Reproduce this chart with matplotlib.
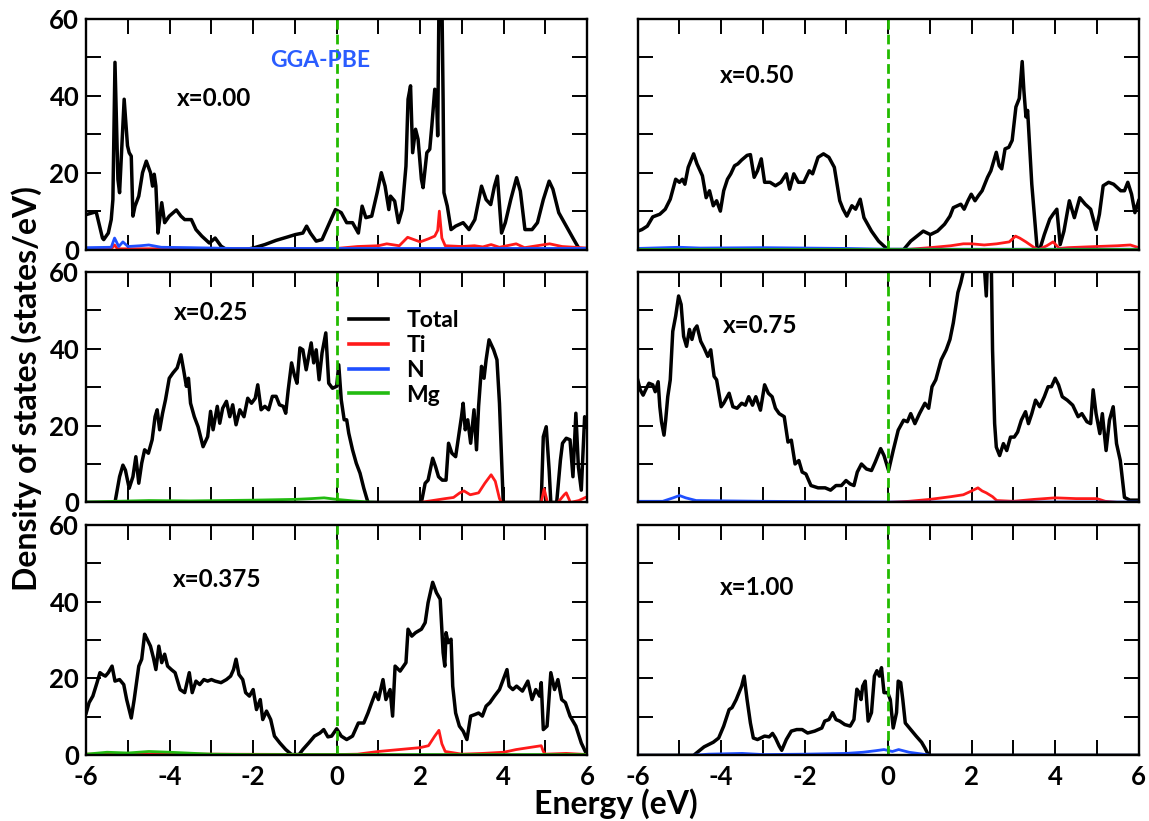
import matplotlib
matplotlib.use('Agg')
import matplotlib.pyplot as plt
from matplotlib.ticker import MultipleLocator

plt.rcParams['font.family'] = ['Lato', 'DejaVu Sans']
plt.rcParams['font.weight'] = 'bold'
plt.rcParams['axes.unicode_minus'] = False

# ---- data (energy in eV, DOS in states/eV) ----
# x = 0.00
e_tot_000 = [-6.00, -5.84, -5.76, -5.61, -5.58, -5.47, -5.40, -5.36, -5.31, -5.24,
             -5.20, -5.09, -5.01, -4.97, -4.92, -4.88, -4.83, -4.74, -4.65, -4.56,
             -4.46, -4.41, -4.37, -4.33, -4.28, -4.24, -4.19, -4.12, -4.01, -3.84,
             -3.73, -3.64, -3.48, -3.37, -3.23, -3.05, -2.91, -2.77, -2.64, -2.18,
             -2.00, -1.72, -1.45, -1.17, -0.99, -0.81, -0.72, -0.63, -0.49, -0.35,
             -0.17, -0.03, 0.11, 0.24, 0.38, 0.52, 0.61, 0.70, 0.84, 0.97,
             1.07, 1.16, 1.25, 1.29, 1.39, 1.48, 1.57, 1.66, 1.71, 1.77,
             1.82, 1.89, 1.95, 2.03, 2.07, 2.16, 2.23, 2.28, 2.35, 2.39,
             2.42, 2.46, 2.51, 2.55, 2.57, 2.65, 2.74, 2.85, 3.03, 3.17,
             3.31, 3.47, 3.58, 3.69, 3.78, 3.85, 3.95, 4.04, 4.17, 4.31,
             4.40, 4.51, 4.68, 4.81, 4.95, 5.09, 5.18, 5.32, 5.50, 5.68,
             5.82, 6.00]
tot_000 = [9.1, 9.6, 9.8, 3.0, 2.6, 4.3, 7.8, 13.0, 48.7, 18.3,
           14.8, 39.1, 27.0, 25.2, 24.3, 8.7, 11.3, 13.9, 20.0, 23.0,
           20.0, 16.5, 19.6, 16.5, 4.3, 7.8, 12.2, 7.0, 8.7, 10.3,
           8.7, 7.8, 7.8, 5.2, 3.5, 1.7, 3.0, 0.9, 0.0, 0.0,
           0.4, 1.3, 2.4, 3.3, 3.9, 4.3, 6.1, 4.3, 2.2, 2.6,
           7.0, 10.4, 9.6, 7.0, 7.0, 4.3, 11.3, 8.3, 8.7, 14.8,
           20.0, 16.5, 10.4, 13.9, 12.6, 7.0, 10.4, 21.7, 39.1, 42.6,
           25.2, 31.3, 28.7, 18.3, 16.1, 25.2, 26.1, 32.2, 41.7, 40.9,
           29.6, 75.0, 75.0, 39.0, 14.8, 11.3, 5.2, 6.1, 7.0, 5.2,
           7.8, 16.5, 13.0, 11.7, 16.5, 19.1, 4.3, 7.0, 13.0, 18.7,
           15.2, 5.2, 5.2, 7.0, 13.0, 17.8, 15.7, 9.6, 6.1, 2.6,
           0.0, 0.0]
e_ti_000 = [-6.0, -5.4, -5.32, -5.25, -5.0, 0.0, 0.5, 1.0, 1.2, 1.5,
            1.7, 1.8, 2.0, 2.2, 2.35, 2.42, 2.46, 2.52, 2.6, 3.0,
            3.3, 3.5, 3.7, 3.9, 4.3, 4.5, 5.1, 5.4, 6.0]
ti_000 = [0.2, 0.2, 1.2, 0.2, 0.2, 0.3, 0.8, 1.0, 1.5, 1.0,
          3.2, 2.8, 2.0, 2.8, 3.5, 5.0, 10.0, 3.0, 1.0, 0.8,
          1.0, 0.7, 1.3, 0.6, 1.5, 0.5, 1.5, 0.8, 0.4]
e_n_000 = [-6.0, -5.4, -5.32, -5.22, -5.12, -5.0, -4.7, -4.5, -4.2, -3.5, -2.5, 0.0, 3.0, 6.0]
n_000 = [0.5, 0.6, 3.0, 0.8, 2.0, 0.8, 1.0, 1.2, 0.6, 0.5, 0.3, 0.3, 0.3, 0.3]

# x = 0.50
e_tot_050 = [-6.00, -5.90, -5.77, -5.64, -5.47, -5.34, -5.22, -5.09, -5.00, -4.93,
             -4.87, -4.79, -4.66, -4.58, -4.45, -4.36, -4.28, -4.19, -4.11, -4.02,
             -3.94, -3.85, -3.77, -3.68, -3.60, -3.51, -3.38, -3.30, -3.21, -3.13,
             -3.04, -2.96, -2.83, -2.70, -2.57, -2.44, -2.36, -2.26, -2.15, -2.02,
             -1.89, -1.81, -1.68, -1.55, -1.42, -1.29, -1.16, -1.08, -0.99, -0.87,
             -0.78, -0.67, -0.58, -0.40, -0.23, -0.01, 0.37, 0.54, 0.84, 1.01,
             1.18, 1.35, 1.48, 1.56, 1.74, 1.82, 1.91, 1.99, 2.08, 2.16,
             2.25, 2.38, 2.46, 2.59, 2.66, 2.72, 2.80, 2.89, 2.97, 3.06,
             3.14, 3.21, 3.25, 3.30, 3.34, 3.44, 3.57, 3.63, 3.74, 3.87,
             3.95, 4.04, 4.12, 4.21, 4.34, 4.46, 4.59, 4.72, 4.85, 4.98,
             5.06, 5.15, 5.28, 5.40, 5.57, 5.66, 5.74, 5.83, 5.91, 6.00]
tot_050 = [4.8, 5.2, 6.1, 8.5, 9.2, 10.5, 13.1, 18.3, 17.5, 18.3,
           17.0, 21.4, 24.9, 22.3, 19.2, 13.5, 15.3, 11.4, 12.7, 10.0,
           15.3, 18.3, 19.7, 21.8, 22.3, 23.3, 24.5, 24.7, 18.8, 20.5,
           23.6, 17.5, 17.5, 16.6, 17.5, 19.7, 15.7, 19.7, 17.5, 17.5,
           20.5, 19.7, 24.0, 24.9, 24.0, 21.4, 12.7, 10.5, 8.7, 11.4,
           10.5, 13.1, 8.3, 4.8, 2.2, 0.0, 0.0, 2.2, 4.8, 3.9,
           4.8, 6.6, 8.7, 10.9, 11.8, 10.5, 12.7, 14.4, 12.7, 14.0,
           15.3, 18.8, 20.5, 25.3, 21.8, 21.0, 26.2, 26.6, 28.4, 37.1,
           39.3, 48.9, 41.5, 34.5, 36.2, 17.0, 0.0, 0.0, 3.9, 7.9,
           9.2, 10.5, 1.3, 4.8, 12.7, 8.3, 13.5, 11.8, 10.5, 5.2,
           9.2, 16.6, 17.5, 17.0, 15.3, 15.3, 17.5, 14.4, 9.6, 12.7]
e_ti_050 = [-6.0, 0.4, 1.0, 1.5, 1.8, 2.0, 2.3, 2.6, 2.9, 3.05,
            3.15, 3.3, 3.5, 3.6, 3.8, 3.95, 4.1, 4.3, 5.0, 5.5,
            5.8, 6.0]
ti_050 = [0.0, 0.0, 0.5, 1.0, 1.5, 1.5, 1.2, 1.5, 2.0, 3.5,
          3.0, 2.0, 0.5, 0.0, 1.0, 2.0, 0.3, 0.5, 0.8, 1.0,
          1.2, 0.5]
e_n_050 = [-6.0, -5.0, -4.5, -3.0, -1.0, 0.0, 6.0]
n_050 = [0.3, 0.6, 0.4, 0.5, 0.3, 0.1, 0.1]
e_mg_050 = [-6.0, 6.0]
mg_050 = [0.05, 0.05]

# x = 0.25
e_tot_025 = [-6.00, -5.31, -5.20, -5.12, -5.06, -4.97, -4.88, -4.81, -4.74, -4.67,
             -4.60, -4.51, -4.42, -4.35, -4.30, -4.24, -4.17, -4.10, -4.01, -3.92,
             -3.82, -3.73, -3.66, -3.60, -3.55, -3.50, -3.41, -3.32, -3.20, -3.09,
             -3.02, -2.96, -2.86, -2.80, -2.73, -2.64, -2.56, -2.49, -2.41, -2.32,
             -2.22, -2.13, -2.04, -1.95, -1.89, -1.81, -1.72, -1.63, -1.54, -1.45,
             -1.37, -1.28, -1.22, -1.16, -1.08, -1.01, -0.95, -0.88, -0.81, -0.73,
             -0.67, -0.61, -0.55, -0.49, -0.42, -0.35, -0.26, -0.19, -0.10, 0.00,
             0.05, 0.11, 0.18, 0.24, 0.29, 0.38, 0.47, 0.56, 0.65, 0.75,
             2.03, 2.12, 2.19, 2.30, 2.37, 2.44, 2.53, 2.62, 2.68, 2.76,
             2.85, 2.92, 2.99, 3.03, 3.08, 3.14, 3.21, 3.29, 3.35, 3.40,
             3.47, 3.53, 3.58, 3.65, 3.76, 3.84, 3.90, 3.99, 4.90, 4.95,
             5.02, 5.09, 5.13, 5.27, 5.36, 5.41, 5.50, 5.59, 5.66, 5.73,
             5.79, 5.86, 5.94, 6.00]
tot_025 = [0.0, 0.0, 6.7, 9.7, 8.4, 3.7, 6.7, 11.9, 5.0, 10.2,
           13.7, 12.8, 16.3, 22.3, 24.1, 18.9, 23.2, 26.7, 32.3, 33.7,
           35.0, 38.4, 34.1, 30.2, 32.3, 25.8, 22.3, 19.7, 14.5, 17.1,
           23.7, 18.9, 25.0, 20.6, 24.5, 26.3, 22.3, 25.4, 20.2, 24.1,
           22.3, 27.1, 25.8, 27.1, 30.6, 24.1, 25.0, 24.1, 27.6, 27.6,
           25.4, 25.0, 23.2, 29.3, 36.3, 33.0, 31.0, 40.2, 39.7, 34.5,
           38.0, 41.5, 36.3, 39.7, 31.9, 38.9, 44.1, 31.0, 29.7, 30.2,
           35.8, 26.7, 21.5, 21.5, 18.0, 13.7, 10.2, 7.6, 3.7, 0.0,
           0.0, 5.0, 5.8, 11.5, 9.3, 6.7, 5.8, 5.8, 15.4, 12.8,
           11.9, 17.1, 22.3, 25.8, 18.9, 21.5, 15.4, 24.1, 13.7, 25.0,
           35.4, 32.3, 37.1, 42.3, 39.7, 37.1, 25.8, 0.0, 0.0, 17.1,
           19.7, 8.4, 0.0, 0.0, 11.0, 15.4, 16.7, 16.3, 6.7, 23.2,
           9.3, 3.2, 22.3, 19.7]
e_ti_025 = [-6.0, 2.0, 2.3, 2.6, 2.8, 2.95, 3.05, 3.2, 3.4, 3.55,
            3.7, 3.8, 3.9, 3.95, 4.9, 4.97, 5.05, 5.3, 5.45, 5.5,
            5.6, 5.8, 5.9, 6.0]
ti_025 = [0.0, 0.0, 0.5, 1.0, 1.3, 2.5, 3.0, 2.0, 2.5, 5.0,
          7.2, 5.5, 1.0, 0.0, 0.0, 3.5, 0.0, 0.0, 2.0, 2.5,
          0.0, 0.5, 1.0, 1.5]
e_n_025 = [-6.0, 6.0]
n_025 = [0.05, 0.05]
e_mg_025 = [-6.0, -5.3, -4.5, -3.5, -2.0, -1.0, -0.6, -0.3, 0.0, 0.4, 0.8, 1.0, 6.0]
mg_025 = [0.1, 0.3, 0.5, 0.4, 0.6, 0.8, 1.0, 1.2, 0.8, 0.4, 0.1, 0.0, 0.0]

# x = 0.75
e_tot_075 = [-6.00, -5.94, -5.87, -5.81, -5.73, -5.64, -5.58, -5.51, -5.47, -5.43,
             -5.37, -5.33, -5.28, -5.22, -5.16, -5.09, -5.02, -4.96, -4.90, -4.83,
             -4.76, -4.70, -4.64, -4.58, -4.49, -4.41, -4.32, -4.25, -4.17, -4.11,
             -4.00, -3.94, -3.81, -3.72, -3.62, -3.51, -3.42, -3.34, -3.25, -3.17,
             -3.06, -2.96, -2.87, -2.78, -2.70, -2.61, -2.49, -2.40, -2.32, -2.23,
             -2.14, -2.06, -1.97, -1.85, -1.68, -1.51, -1.38, -1.25, -1.12, -1.01,
             -0.91, -0.82, -0.74, -0.64, -0.52, -0.40, -0.31, -0.18, -0.10, 0.01,
             0.12, 0.24, 0.37, 0.46, 0.54, 0.64, 0.75, 0.88, 0.97, 1.05,
             1.14, 1.27, 1.39, 1.48, 1.56, 1.67, 1.74, 1.82, 2.08, 2.25,
             2.35, 2.40, 2.46, 2.50, 2.55, 2.59, 2.67, 2.76, 2.84, 2.93,
             3.02, 3.10, 3.19, 3.29, 3.36, 3.44, 3.53, 3.63, 3.74, 3.83,
             3.91, 4.00, 4.08, 4.17, 4.29, 4.42, 4.55, 4.64, 4.76, 4.85,
             4.91, 4.98, 5.07, 5.13, 5.22, 5.30, 5.39, 5.47, 5.56, 5.66,
             5.79, 6.00]
tot_075 = [31.9, 29.3, 27.9, 29.3, 31.0, 30.6, 28.8, 31.4, 24.9, 21.0,
           17.5, 21.4, 27.5, 31.9, 44.5, 48.5, 53.7, 51.5, 43.2, 40.6,
           45.0, 42.4, 45.0, 45.9, 41.9, 40.2, 38.0, 39.7, 32.8, 31.9,
           24.9, 25.8, 28.4, 24.9, 24.5, 25.8, 25.3, 27.5, 25.3, 27.5,
           24.0, 30.6, 28.4, 27.5, 24.5, 23.1, 22.3, 15.7, 16.2, 10.0,
           10.9, 7.9, 7.4, 4.4, 3.8, 3.8, 3.2, 4.4, 4.4, 5.7,
           4.8, 4.4, 7.9, 10.0, 8.7, 8.3, 10.5, 14.0, 12.2, 8.3,
           13.5, 18.8, 21.4, 21.0, 23.1, 20.5, 23.1, 25.8, 24.5, 30.1,
           31.9, 37.1, 39.7, 42.4, 46.7, 54.6, 57.2, 61.0, 75.0, 70.0,
           53.7, 70.0, 70.0, 39.7, 20.5, 14.4, 12.2, 15.3, 13.5, 17.0,
           17.0, 18.3, 21.4, 23.6, 20.5, 23.1, 26.6, 24.9, 27.5, 30.1,
           30.1, 32.3, 30.6, 27.5, 26.6, 25.3, 22.3, 23.1, 21.0, 20.5,
           29.3, 23.1, 17.9, 23.1, 13.5, 21.4, 24.9, 15.3, 10.9, 1.3,
           0.6, 0.6]
e_ti_075 = [-6.0, 0.0, 0.5, 1.0, 1.5, 1.8, 2.0, 2.15, 2.25, 2.35,
            2.5, 2.6, 3.0, 3.5, 4.0, 4.5, 5.0, 5.2, 5.5, 6.0]
ti_075 = [0.0, 0.0, 0.3, 0.8, 1.5, 2.0, 3.0, 3.8, 3.0, 2.5,
          1.5, 0.5, 0.3, 0.8, 1.2, 1.0, 1.0, 0.3, 0.0, 0.0]
e_n_075 = [-6.0, -5.4, -5.15, -5.0, -4.85, -4.6, -3.0, 0.0, 6.0]
n_075 = [0.3, 0.3, 1.2, 1.8, 1.2, 0.5, 0.3, 0.1, 0.1]
e_mg_075 = [-6.0, 6.0]
mg_075 = [0.05, 0.05]

# x = 0.375
e_tot_0375 = [-6.00, -5.93, -5.84, -5.74, -5.67, -5.61, -5.54, -5.47, -5.38, -5.31,
              -5.20, -5.10, -5.03, -4.92, -4.85, -4.74, -4.67, -4.60, -4.54, -4.46,
              -4.39, -4.33, -4.26, -4.19, -4.12, -4.05, -3.96, -3.87, -3.75, -3.64,
              -3.53, -3.46, -3.37, -3.28, -3.18, -3.09, -3.00, -2.91, -2.77, -2.64,
              -2.54, -2.47, -2.41, -2.34, -2.25, -2.18, -2.09, -2.00, -1.92, -1.83,
              -1.77, -1.68, -1.58, -1.49, -1.36, -1.22, -1.08, -0.90, -0.81, -0.67,
              -0.53, -0.40, -0.31, -0.21, -0.12, 0.00, 0.11, 0.24, 0.38, 0.52,
              0.65, 0.75, 0.84, 0.93, 1.00, 1.11, 1.18, 1.28, 1.34, 1.40,
              1.52, 1.66, 1.71, 1.80, 1.89, 2.03, 2.12, 2.19, 2.30, 2.39,
              2.48, 2.55, 2.59, 2.62, 2.67, 2.74, 2.78, 2.85, 2.94, 3.03,
              3.12, 3.21, 3.31, 3.40, 3.49, 3.58, 3.67, 3.78, 3.90, 3.99,
              4.08, 4.13, 4.22, 4.31, 4.45, 4.58, 4.68, 4.77, 4.86, 4.90,
              4.95, 5.04, 5.13, 5.22, 5.30, 5.39, 5.48, 5.59, 5.73, 5.86,
              6.00]
tot_0375 = [11.0, 13.7, 15.4, 18.9, 21.5, 21.0, 20.6, 21.5, 23.2, 19.3,
            19.7, 18.4, 14.5, 9.7, 14.5, 23.2, 25.0, 31.5, 30.2, 28.4,
            25.4, 22.3, 28.4, 24.1, 26.3, 23.2, 22.3, 21.5, 17.1, 16.3,
            21.5, 16.3, 19.3, 18.4, 19.7, 19.3, 19.7, 19.3, 18.9, 19.7,
            20.6, 22.3, 25.0, 21.0, 19.7, 16.3, 15.4, 17.1, 11.9, 14.5,
            9.3, 11.5, 9.3, 5.0, 3.2, 1.5, 0.2, 0.2, 1.5, 3.2,
            5.0, 5.8, 6.7, 4.8, 5.0, 6.9, 5.0, 4.1, 5.0, 8.4,
            8.4, 11.0, 13.7, 16.3, 14.5, 19.7, 14.5, 17.1, 10.2, 23.2,
            21.9, 24.1, 32.8, 31.0, 31.9, 32.8, 34.5, 39.7, 45.0, 42.3,
            40.6, 26.7, 23.2, 31.9, 29.3, 30.2, 18.0, 11.0, 7.6, 6.3,
            4.1, 10.2, 10.6, 11.0, 10.2, 12.8, 13.7, 15.4, 17.1, 19.7,
            22.3, 18.0, 17.1, 18.0, 16.7, 19.3, 14.5, 17.1, 15.4, 18.9,
            6.7, 7.6, 21.5, 17.1, 19.7, 14.5, 13.7, 10.2, 7.6, 3.2,
            0.0]
e_ti_0375 = [-6.0, -3.0, 0.0, 0.5, 1.0, 1.5, 2.0, 2.2, 2.35, 2.45,
             2.52, 2.6, 3.0, 3.5, 4.0, 4.3, 4.6, 4.9, 4.95, 5.0,
             5.5, 6.0]
ti_0375 = [0.3, 0.3, 0.2, 0.3, 1.0, 1.5, 2.0, 2.5, 5.0, 6.5,
           3.0, 1.0, 0.3, 0.5, 0.8, 1.5, 2.0, 2.5, 1.0, 0.3,
           0.5, 0.2]
e_n_0375 = [-6.0, 6.0]
n_0375 = [0.1, 0.1]
e_mg_0375 = [-6.0, -5.8, -5.5, -5.0, -4.5, -4.0, -3.0, -2.0, 6.0]
mg_0375 = [0.3, 0.5, 0.8, 0.6, 1.0, 0.8, 0.3, 0.2, 0.2]

# x = 1.00
e_tot_100 = [-6.00, -4.66, -4.49, -4.41, -4.19, -4.06, -3.94, -3.81, -3.74, -3.64,
             -3.51, -3.45, -3.38, -3.30, -3.23, -3.13, -2.96, -2.85, -2.77, -2.70,
             -2.61, -2.55, -2.44, -2.32, -2.19, -2.06, -1.93, -1.76, -1.59, -1.52,
             -1.42, -1.33, -1.25, -1.16, -1.04, -0.91, -0.82, -0.75, -0.70, -0.65,
             -0.61, -0.55, -0.48, -0.40, -0.33, -0.27, -0.21, -0.16, -0.10, -0.01,
             0.05, 0.12, 0.20, 0.24, 0.30, 0.35, 0.41, 0.54, 0.67, 0.80,
             0.88, 0.97, 6.00]
tot_100 = [0.0, 0.0, 1.5, 2.2, 3.4, 4.5, 7.6, 11.9, 12.4, 14.5,
           18.0, 20.6, 14.5, 8.4, 4.5, 4.1, 5.0, 4.8, 5.7, 4.5,
           2.4, 1.3, 4.1, 6.3, 6.7, 6.7, 5.8, 6.3, 7.1, 8.9,
           9.3, 11.1, 9.3, 8.9, 8.0, 7.6, 9.3, 17.2, 16.4, 14.5,
           18.0, 19.3, 8.9, 11.1, 20.6, 22.0, 20.6, 22.8, 16.3, 16.3,
           14.5, 7.1, 11.1, 19.3, 18.9, 14.5, 8.4, 6.7, 5.0, 3.4,
           1.9, 0.0, 0.0]
e_n_100 = [-6.0, -4.7, -4.3, -3.5, -3.0, -2.0, -1.0, -0.6, -0.3, -0.1,
           0.1, 0.25, 0.5, 0.9, 1.0, 6.0]
n_100 = [0.0, 0.0, 0.3, 0.5, 0.2, 0.3, 0.5, 0.8, 1.2, 1.5,
         1.0, 1.5, 0.8, 0.2, 0.0, 0.0]
e_mg_100 = [-6.0, 6.0]
mg_100 = [0.05, 0.05]

c_tot, c_ti, c_n, c_mg = 'black', '#ff1a1a', '#1f4fff', '#22bb11'
fermi_color = '#22bb00'

panels = [
    ('x=0.00', (0, 0), (-3.82, 39.3), [(e_tot_000, tot_000, c_tot), (e_ti_000, ti_000, c_ti),
                                        (e_n_000, n_000, c_n)]),
    ('x=0.50', (0, 1), (-4.02, 45.4), [(e_tot_050, tot_050, c_tot), (e_ti_050, ti_050, c_ti),
                                        (e_n_050, n_050, c_n), (e_mg_050, mg_050, c_mg)]),
    ('x=0.25', (1, 0), (-3.90, 49.5), [(e_tot_025, tot_025, c_tot), (e_ti_025, ti_025, c_ti),
                                        (e_n_025, n_025, c_n), (e_mg_025, mg_025, c_mg)]),
    ('x=0.75', (1, 1), (-3.96, 46.0), [(e_tot_075, tot_075, c_tot), (e_ti_075, ti_075, c_ti),
                                        (e_n_075, n_075, c_n), (e_mg_075, mg_075, c_mg)]),
    ('x=0.375', (2, 0), (-3.93, 45.8), [(e_tot_0375, tot_0375, c_tot), (e_ti_0375, ti_0375, c_ti),
                                         (e_n_0375, n_0375, c_n), (e_mg_0375, mg_0375, c_mg)]),
    ('x=1.00', (2, 1), (-4.02, 43.7), [(e_tot_100, tot_100, c_tot), (e_n_100, n_100, c_n),
                                        (e_mg_100, mg_100, c_mg)]),
]

fig = plt.figure(figsize=(11.49, 8.21), dpi=100)
col_left = [0.075, 0.555]
col_width = 0.436
row_bottom = [0.696, 0.388, 0.080]
row_height = 0.281

axes = {}
for label, (r, c), txt_pos, curves in panels:
    ax = fig.add_axes([col_left[c], row_bottom[r], col_width, row_height])
    axes[(r, c)] = ax
    for e, d, col in curves:
        lw = 2.5 if col == c_tot else 2.0
        ax.plot(e, d, color=col, lw=lw)
    ax.axvline(0, color=fermi_color, lw=2.0, ls=(0, (3.5, 1.8)))
    ax.set_xlim(-6, 6)
    ax.set_ylim(0, 60)
    ax.xaxis.set_major_locator(MultipleLocator(2))
    ax.xaxis.set_minor_locator(MultipleLocator(1))
    ax.yaxis.set_major_locator(MultipleLocator(20))
    ax.yaxis.set_minor_locator(MultipleLocator(10))
    ax.tick_params(which='both', direction='in', top=True, right=True,
                   length=11, width=1.4, labelsize=18.5)
    ax.tick_params(axis='x', pad=7)
    ax.tick_params(axis='y', pad=5)
    for sp in ax.spines.values():
        sp.set_linewidth(1.7)
    if c == 1:
        ax.tick_params(labelleft=False)
    if r < 2:
        ax.tick_params(labelbottom=False)
    ax.text(txt_pos[0], txt_pos[1], label, fontsize=17.5, fontweight='bold',
            ha='left', va='center')

axes[(0, 0)].text(-1.6, 49.1, 'GGA-PBE', color='#2a5cff', fontsize=16.5,
                  fontweight='bold', ha='left', va='center')

# legend in the x=0.25 panel
leg_ax = axes[(1, 0)]
handles = [plt.Line2D([], [], color=col, lw=2.6) for col in (c_tot, c_ti, c_n, c_mg)]
leg_ax.legend(handles, ['Total', 'Ti', 'N', 'Mg'], loc='upper left',
              bbox_to_anchor=(0.525, 0.835), frameon=False, fontsize=16.5,
              handlelength=1.7, handletextpad=0.8, labelspacing=0.17,
              borderpad=0, borderaxespad=0)

fig.text(0.023, 0.527, 'Density of states (states/eV)', rotation=90,
         ha='center', va='center', fontsize=23, fontweight='bold')
fig.text(0.536, 0.021, 'Energy (eV)', ha='center', va='center',
         fontsize=23, fontweight='bold')

fig.savefig('out.png', dpi=100)
